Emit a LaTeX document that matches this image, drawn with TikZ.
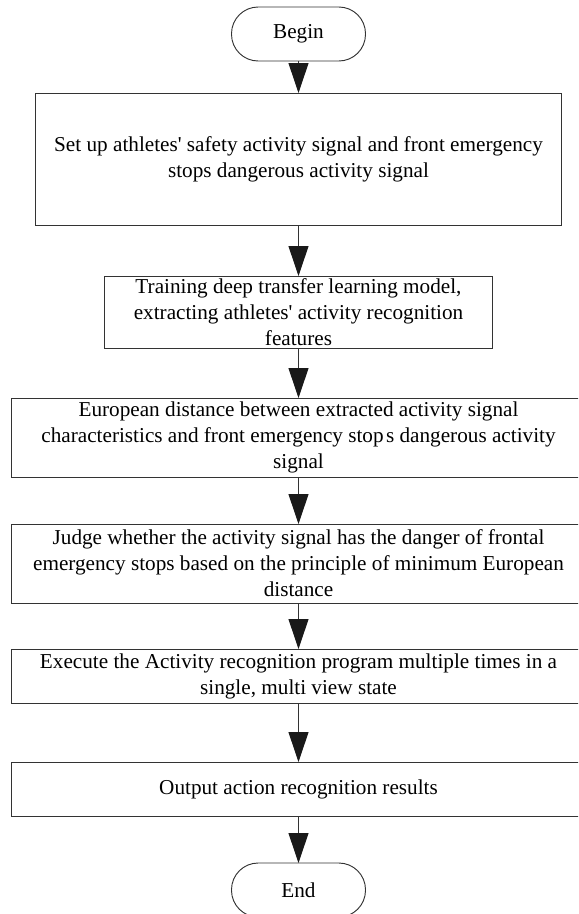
\documentclass[tikz,border=0pt]{standalone}
\usepackage{fontspec}
\setmainfont{Liberation Serif}
\usepackage{tikz}
\usetikzlibrary{
  arrows.meta,
  positioning
}
\definecolor{lnclr}{HTML}{333333}
\newcommand{\apos}{\textquotesingle}

\begin{document}
\begin{tikzpicture}[
  flnode/.style={draw=lnclr, line width=0.8pt, outer sep=0pt, inner sep=0pt,
                 font=\fontsize{18.1}{22.1}\selectfont, align=center},
  procbox/.style={flnode, minimum width=#1},
  termnode/.style={flnode, rounded corners=0.8cm,
                   minimum width=4.02cm, minimum height=1.62cm},
  arr/.style={-{Triangle[length=0.9cm, width=0.6cm, color=black!90]},
              line width=0.8pt, lnclr},
]
  \useasboundingbox (0, 0) rectangle (17.34, -27.42);
  \clip (0, 0) rectangle (17.34, -27.42);

  % Start / end terminals
  \node[termnode] (beg) at (8.955, -1.02) {Begin};
  \node[termnode] (fin) at (8.955, -26.70) {End};

  % Process steps
  \node[procbox=15.78cm, minimum height=3.96cm] (s1) at (8.955, -4.77)
    {Set up athletes\apos{} safety activity signal and front emergency\\
     stops dangerous activity signal};
  \node[procbox=11.64cm, minimum height=2.16cm] (s2) at (8.955, -9.36)
    {Training deep transfer learning model,\\
     extracting athletes\apos{} activity recognition\\
     features};
  \node[procbox=17.25cm, minimum height=2.37cm] (s3) at (8.955, -13.125)
    {European distance between extracted activity signal\\
     characteristics and front emergency stop\hspace{2pt}s dangerous activity\\
     signal};
  \node[procbox=17.25cm, minimum height=2.37cm] (s4) at (8.955, -16.905)
    {Judge whether the activity signal has the danger of frontal\\
     emergency stops based on the principle of minimum European\\
     distance};
  \node[procbox=17.25cm, minimum height=1.62cm] (s5) at (8.955, -20.28)
    {Execute the Activity recognition program multiple times in a\\
     single, multi view state};
  \node[procbox=17.25cm, minimum height=1.62cm] (s6) at (8.955, -23.67)
    {Output action recognition results};

  % Arrows
  \draw[arr] (beg.south) -- (s1.north);
  \draw[arr] (s1.south) -- (s2.north);
  \draw[arr] (s2.south) -- (s3.north);
  \draw[arr] (s3.south) -- (s4.north);
  \draw[arr] (s4.south) -- (s5.north);
  \draw[arr] (s5.south) -- (s6.north);
  \draw[arr] (s6.south) -- (fin.north);

\end{tikzpicture}
\end{document}
